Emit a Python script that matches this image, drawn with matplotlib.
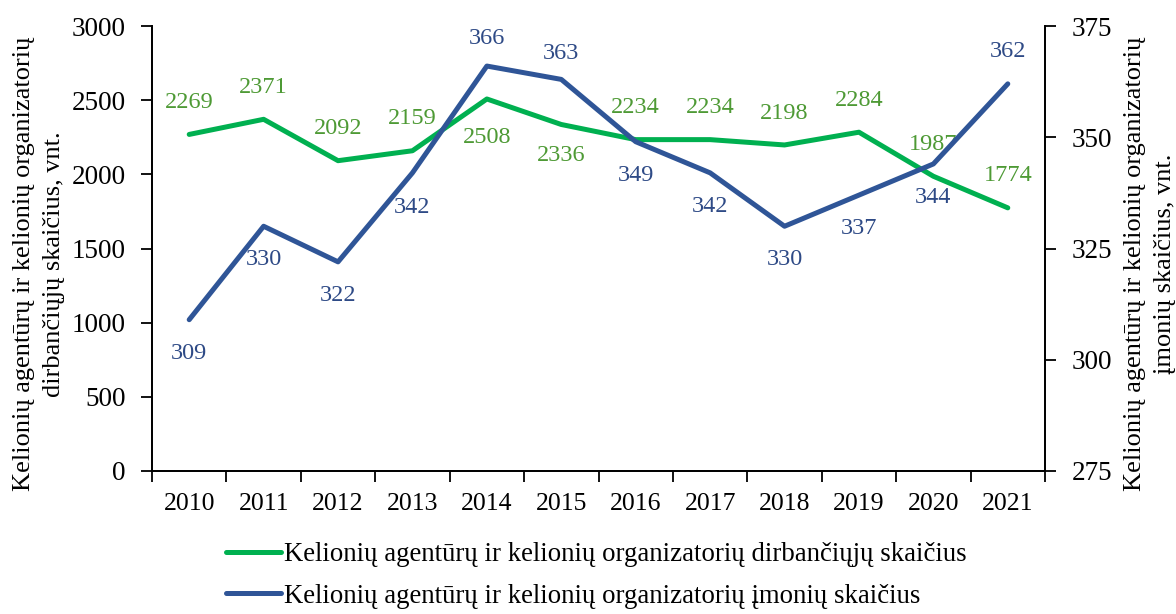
import numpy as np
import matplotlib
matplotlib.use('Agg')
import matplotlib.pyplot as plt

plt.rcParams['font.family'] = ['Liberation Serif', 'DejaVu Serif']

# data
years = ['2010', '2011', '2012', '2013', '2014', '2015',
         '2016', '2017', '2018', '2019', '2020', '2021']
employees = [2269, 2371, 2092, 2159, 2508, 2336, 2234, 2234, 2198, 2284, 1987, 1774]
companies = [309, 330, 322, 342, 366, 363, 349, 342, 330, 337, 344, 362]

# label offsets in points (positive = above the point)
emp_off = [23, 23, 23, 23, -28, -22, 23, 23, 23, 23, 23, 23]
comp_off = [-24, -24, -24, -25, 20, 19, -24, -24, -24, -24, -24, 23]

green = '#00b050'
green_txt = '#4e9a35'
blue = '#2f5597'
blue_txt = '#2e4a86'

emp_label = 'Kelionių agentūrų ir kelionių organizatorių dirbančiųjų skaičius'
comp_label = 'Kelionių agentūrų ir kelionių organizatorių įmonių skaičius'

W, H = 1176, 614
fig = plt.figure(figsize=(W / 100, H / 100), dpi=100)
ax = fig.add_axes([152 / W, 1 - 471 / H, 893 / W, 445 / H])
ax2 = ax.twinx()

x = np.arange(len(years))
l1, = ax.plot(x, employees, color=green, lw=3.6, solid_capstyle='round',
              label=emp_label)
l2, = ax2.plot(x, companies, color=blue, lw=3.6, solid_capstyle='round',
               label=comp_label)

for xi, v, o in zip(x, employees, emp_off):
    ax.annotate(str(v), (xi, v), xytext=(0, o), textcoords='offset points',
                ha='center', va='center', fontsize=17.5, color=green_txt)
for xi, v, o in zip(x, companies, comp_off):
    ax2.annotate(str(v), (xi, v), xytext=(0, o), textcoords='offset points',
                 ha='center', va='center', fontsize=17.5, color=blue_txt)

ax.set_xlim(-0.5, len(years) - 0.5)
ax.set_ylim(0, 3000)
ax.set_yticks(np.arange(0, 3001, 500))
ax2.set_ylim(275, 375)
ax2.set_yticks(np.arange(275, 376, 25))

ax.set_xticks(x)
ax.set_xticklabels(years)
ax.set_xticks(np.arange(-0.5, len(years)), minor=True)
ax.tick_params(axis='x', which='major', length=0, labelsize=18.5, pad=16)
ax.tick_params(axis='x', which='minor', length=8, width=1.3, direction='out')
ax.tick_params(axis='y', length=8, width=1.3, labelsize=19.5, pad=11)
ax2.tick_params(axis='y', length=8, width=1.3, labelsize=19.5, pad=11)

for a in (ax, ax2):
    a.spines['top'].set_visible(False)
    for sp in ('left', 'right', 'bottom'):
        a.spines[sp].set_linewidth(1.3)

fig.text(39 / W, 1 - 264 / H,
         'Kelionių agentūrų ir kelionių organizatorių\ndirbančiųjų skaičius, vnt.',
         rotation=90, ha='center', va='center', fontsize=19, linespacing=1.45)
fig.text(1150 / W, 1 - 264 / H,
         'Kelionių agentūrų ir kelionių organizatorių\nįmonių skaičius, vnt.',
         rotation=90, ha='center', va='center', fontsize=19, linespacing=1.45)

fig.legend(handles=[l1, l2], loc='upper left',
           bbox_to_anchor=(226 / W, 1 - 542 / H), frameon=False,
           fontsize=19.3, handlelength=2.05, handletextpad=0.12,
           labelspacing=0.62, borderpad=0, borderaxespad=0)

plt.savefig('out.png', dpi=100)
